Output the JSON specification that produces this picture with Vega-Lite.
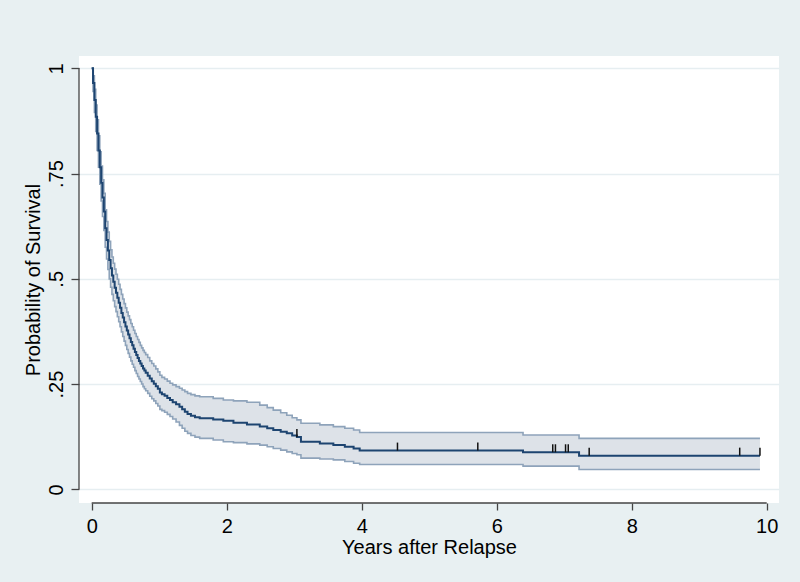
{
  "$schema": "https://vega.github.io/schema/vega-lite/v6.json",
  "width": 700,
  "height": 447,
  "autosize": {"type": "none"},
  "padding": {"left": 79, "top": 56, "right": 21, "bottom": 79},
  "background": "#e8f0f2",
  "view": {"fill": "white", "stroke": null},
  "config": {"font": "Liberation Sans"},
  "datasets": {
    "km": [
      {"t": 0, "s": 1, "lo": 1, "hi": 1},
      {"t": 0.02, "s": 0.965, "lo": 0.945, "hi": 0.982},
      {"t": 0.04, "s": 0.925, "lo": 0.895, "hi": 0.95},
      {"t": 0.06, "s": 0.885, "lo": 0.85, "hi": 0.913},
      {"t": 0.08, "s": 0.845, "lo": 0.805, "hi": 0.878},
      {"t": 0.10, "s": 0.805, "lo": 0.765, "hi": 0.84},
      {"t": 0.12, "s": 0.765, "lo": 0.725, "hi": 0.802},
      {"t": 0.14, "s": 0.728, "lo": 0.685, "hi": 0.768},
      {"t": 0.16, "s": 0.693, "lo": 0.648, "hi": 0.735},
      {"t": 0.18, "s": 0.66, "lo": 0.615, "hi": 0.703},
      {"t": 0.20, "s": 0.62, "lo": 0.575, "hi": 0.664},
      {"t": 0.22, "s": 0.592, "lo": 0.547, "hi": 0.636},
      {"t": 0.24, "s": 0.567, "lo": 0.522, "hi": 0.611},
      {"t": 0.26, "s": 0.545, "lo": 0.50, "hi": 0.589},
      {"t": 0.28, "s": 0.525, "lo": 0.48, "hi": 0.569},
      {"t": 0.30, "s": 0.508, "lo": 0.463, "hi": 0.552},
      {"t": 0.32, "s": 0.493, "lo": 0.448, "hi": 0.537},
      {"t": 0.34, "s": 0.479, "lo": 0.434, "hi": 0.523},
      {"t": 0.36, "s": 0.467, "lo": 0.422, "hi": 0.511},
      {"t": 0.38, "s": 0.455, "lo": 0.41, "hi": 0.499},
      {"t": 0.40, "s": 0.443, "lo": 0.398, "hi": 0.487},
      {"t": 0.42, "s": 0.431, "lo": 0.386, "hi": 0.475},
      {"t": 0.44, "s": 0.419, "lo": 0.374, "hi": 0.463},
      {"t": 0.46, "s": 0.408, "lo": 0.363, "hi": 0.452},
      {"t": 0.48, "s": 0.397, "lo": 0.352, "hi": 0.441},
      {"t": 0.50, "s": 0.387, "lo": 0.342, "hi": 0.431},
      {"t": 0.52, "s": 0.377, "lo": 0.332, "hi": 0.421},
      {"t": 0.54, "s": 0.368, "lo": 0.323, "hi": 0.412},
      {"t": 0.56, "s": 0.359, "lo": 0.314, "hi": 0.403},
      {"t": 0.58, "s": 0.35, "lo": 0.305, "hi": 0.394},
      {"t": 0.60, "s": 0.342, "lo": 0.297, "hi": 0.386},
      {"t": 0.62, "s": 0.334, "lo": 0.29, "hi": 0.378},
      {"t": 0.64, "s": 0.326, "lo": 0.282, "hi": 0.37},
      {"t": 0.66, "s": 0.319, "lo": 0.275, "hi": 0.363},
      {"t": 0.68, "s": 0.312, "lo": 0.268, "hi": 0.356},
      {"t": 0.70, "s": 0.305, "lo": 0.262, "hi": 0.349},
      {"t": 0.72, "s": 0.299, "lo": 0.256, "hi": 0.342},
      {"t": 0.74, "s": 0.293, "lo": 0.25, "hi": 0.336},
      {"t": 0.76, "s": 0.287, "lo": 0.244, "hi": 0.33},
      {"t": 0.78, "s": 0.282, "lo": 0.239, "hi": 0.325},
      {"t": 0.80, "s": 0.277, "lo": 0.234, "hi": 0.32},
      {"t": 0.83, "s": 0.27, "lo": 0.228, "hi": 0.313},
      {"t": 0.86, "s": 0.263, "lo": 0.221, "hi": 0.305},
      {"t": 0.89, "s": 0.257, "lo": 0.215, "hi": 0.299},
      {"t": 0.92, "s": 0.251, "lo": 0.21, "hi": 0.293},
      {"t": 0.95, "s": 0.245, "lo": 0.204, "hi": 0.286},
      {"t": 0.98, "s": 0.239, "lo": 0.198, "hi": 0.279},
      {"t": 1.01, "s": 0.23, "lo": 0.19, "hi": 0.271},
      {"t": 1.04, "s": 0.226, "lo": 0.187, "hi": 0.266},
      {"t": 1.08, "s": 0.222, "lo": 0.183, "hi": 0.262},
      {"t": 1.12, "s": 0.217, "lo": 0.178, "hi": 0.257},
      {"t": 1.16, "s": 0.212, "lo": 0.173, "hi": 0.252},
      {"t": 1.20, "s": 0.207, "lo": 0.167, "hi": 0.248},
      {"t": 1.25, "s": 0.202, "lo": 0.16, "hi": 0.244},
      {"t": 1.30, "s": 0.196, "lo": 0.152, "hi": 0.24},
      {"t": 1.34, "s": 0.19, "lo": 0.145, "hi": 0.236},
      {"t": 1.38, "s": 0.184, "lo": 0.138, "hi": 0.232},
      {"t": 1.42, "s": 0.179, "lo": 0.133, "hi": 0.228},
      {"t": 1.47, "s": 0.175, "lo": 0.128, "hi": 0.225},
      {"t": 1.53, "s": 0.171, "lo": 0.124, "hi": 0.222},
      {"t": 1.60, "s": 0.169, "lo": 0.121, "hi": 0.22},
      {"t": 1.80, "s": 0.166, "lo": 0.117, "hi": 0.216},
      {"t": 1.95, "s": 0.163, "lo": 0.113, "hi": 0.212},
      {"t": 2.10, "s": 0.158, "lo": 0.111, "hi": 0.21},
      {"t": 2.30, "s": 0.154, "lo": 0.108, "hi": 0.207},
      {"t": 2.49, "s": 0.149, "lo": 0.105, "hi": 0.20},
      {"t": 2.60, "s": 0.145, "lo": 0.101, "hi": 0.194},
      {"t": 2.69, "s": 0.141, "lo": 0.097, "hi": 0.188},
      {"t": 2.80, "s": 0.137, "lo": 0.093, "hi": 0.182},
      {"t": 2.89, "s": 0.133, "lo": 0.089, "hi": 0.176},
      {"t": 2.97, "s": 0.128, "lo": 0.085, "hi": 0.170},
      {"t": 3.04, "s": 0.124, "lo": 0.082, "hi": 0.165},
      {"t": 3.10, "s": 0.113, "lo": 0.074, "hi": 0.157},
      {"t": 3.38, "s": 0.109, "lo": 0.072, "hi": 0.153},
      {"t": 3.58, "s": 0.105, "lo": 0.070, "hi": 0.149},
      {"t": 3.75, "s": 0.101, "lo": 0.066, "hi": 0.145},
      {"t": 3.88, "s": 0.097, "lo": 0.062, "hi": 0.141},
      {"t": 3.97, "s": 0.092, "lo": 0.059, "hi": 0.135},
      {"t": 6.39, "s": 0.088, "lo": 0.055, "hi": 0.129},
      {"t": 7.22, "s": 0.080, "lo": 0.047, "hi": 0.121},
      {"t": 9.9, "s": 0.080, "lo": 0.047, "hi": 0.121}
    ],
    "cens": [
      {"t": 3.04, "s": 0.124},
      {"t": 4.53, "s": 0.092},
      {"t": 5.72, "s": 0.092},
      {"t": 6.83, "s": 0.088},
      {"t": 6.87, "s": 0.088},
      {"t": 7.02, "s": 0.088},
      {"t": 7.06, "s": 0.088},
      {"t": 7.37, "s": 0.080},
      {"t": 9.6, "s": 0.080},
      {"t": 9.9, "s": 0.080}
    ],
    "xline": [{"a": 0, "b": 10}],
    "yline": [{"a": 0, "b": 1}]
  },
  "layer": [
    {
      "data": {"name": "km"},
      "mark": {"type": "area", "interpolate": "step-after", "color": "#dde2e8", "opacity": 1},
      "encoding": {
        "x": {
          "field": "t", "type": "quantitative", "title": "Years after Relapse",
          "scale": {"domain": [-0.188, 10.182], "nice": false, "zero": false},
          "axis": {
            "values": [0, 2, 4, 6, 8, 10], "format": "d", "domain": false, "grid": false,
            "tickColor": "#444", "tickSize": 7, "tickWidth": 1.3,
            "labelFontSize": 20, "labelColor": "#000", "labelFlush": false,
            "labelBaseline": "alphabetic", "labelPadding": 22,
            "titleFontSize": 20, "titleFontWeight": "normal", "titleColor": "#000",
            "titleBaseline": "alphabetic", "titleY": 50
          }
        },
        "y": {
          "field": "lo", "type": "quantitative", "title": "Probability of Survival",
          "scale": {"domain": [-0.0325, 1.0293], "nice": false, "zero": false},
          "axis": {
            "values": [0, 0.25, 0.5, 0.75, 1], "format": ".2~f",
            "labelExpr": "replace(datum.label, '0.', '.')",
            "domain": false, "grid": true, "gridColor": "#e6eef1", "gridWidth": 1.5,
            "tickColor": "#444", "tickSize": 8, "tickWidth": 1.3,
            "labelFontSize": 20, "labelColor": "#000", "labelAngle": -90,
            "labelAlign": "center", "labelBaseline": "alphabetic", "labelPadding": 9,
            "titleFontSize": 20, "titleFontWeight": "normal", "titleColor": "#000",
            "titleBaseline": "alphabetic", "titleX": -40
          }
        },
        "y2": {"field": "hi"}
      }
    },
    {
      "data": {"name": "km"},
      "mark": {"type": "line", "interpolate": "step-after", "color": "#8ea3ba", "strokeWidth": 1.6},
      "encoding": {
        "x": {"field": "t", "type": "quantitative", "title": "Years after Relapse", "scale": {"domain": [-0.188, 10.182], "nice": false, "zero": false}},
        "y": {"field": "hi", "type": "quantitative", "title": "Probability of Survival", "scale": {"domain": [-0.0325, 1.0293], "nice": false, "zero": false}}
      }
    },
    {
      "data": {"name": "km"},
      "mark": {"type": "line", "interpolate": "step-after", "color": "#8ea3ba", "strokeWidth": 1.6},
      "encoding": {
        "x": {"field": "t", "type": "quantitative", "title": "Years after Relapse", "scale": {"domain": [-0.188, 10.182], "nice": false, "zero": false}},
        "y": {"field": "lo", "type": "quantitative", "title": "Probability of Survival", "scale": {"domain": [-0.0325, 1.0293], "nice": false, "zero": false}}
      }
    },
    {
      "data": {"name": "km"},
      "mark": {"type": "line", "interpolate": "step-after", "color": "#1d4470", "strokeWidth": 2},
      "encoding": {
        "x": {"field": "t", "type": "quantitative", "title": "Years after Relapse", "scale": {"domain": [-0.188, 10.182], "nice": false, "zero": false}},
        "y": {"field": "s", "type": "quantitative", "title": "Probability of Survival", "scale": {"domain": [-0.0325, 1.0293], "nice": false, "zero": false}}
      }
    },
    {
      "data": {"name": "cens"},
      "mark": {"type": "point", "shape": "M0,0L0,-2", "size": 64, "filled": false, "color": "#111", "strokeWidth": 1.5, "opacity": 1},
      "encoding": {
        "x": {"field": "t", "type": "quantitative", "title": "Years after Relapse", "scale": {"domain": [-0.188, 10.182], "nice": false, "zero": false}},
        "y": {"field": "s", "type": "quantitative", "title": "Probability of Survival", "scale": {"domain": [-0.0325, 1.0293], "nice": false, "zero": false}}
      }
    },
    {
      "data": {"name": "xline"},
      "mark": {"type": "rule", "color": "#444", "strokeWidth": 1.3},
      "encoding": {
        "x": {"field": "a", "type": "quantitative", "title": "Years after Relapse", "scale": {"domain": [-0.188, 10.182], "nice": false, "zero": false}},
        "x2": {"field": "b"},
        "y": {"datum": -0.0325, "type": "quantitative", "title": "Probability of Survival", "scale": {"domain": [-0.0325, 1.0293], "nice": false, "zero": false}}
      }
    },
    {
      "data": {"name": "yline"},
      "mark": {"type": "rule", "color": "#444", "strokeWidth": 1.3},
      "encoding": {
        "x": {"datum": -0.188, "type": "quantitative", "title": "Years after Relapse", "scale": {"domain": [-0.188, 10.182], "nice": false, "zero": false}},
        "y": {"field": "a", "type": "quantitative", "title": "Probability of Survival", "scale": {"domain": [-0.0325, 1.0293], "nice": false, "zero": false}},
        "y2": {"field": "b"}
      }
    }
  ]
}
